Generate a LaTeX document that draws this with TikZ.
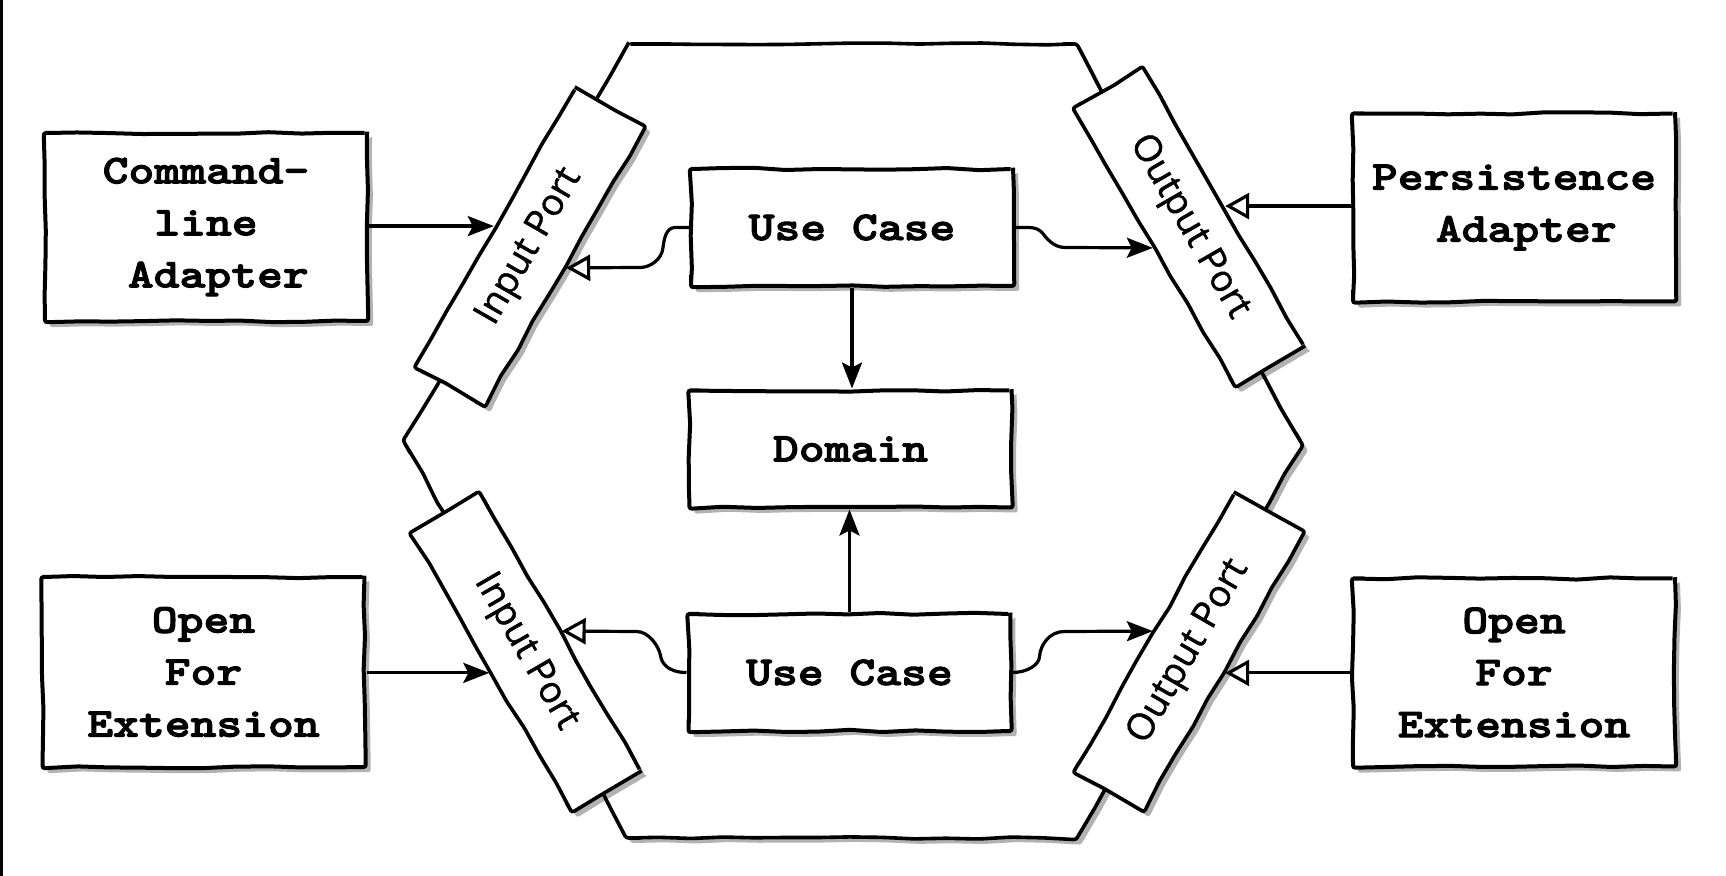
\documentclass[tikz,border=0pt]{standalone}
\usepackage{fontspec}
\newfontfamily\boxfont{lmmonolt10-bold}[Extension=.otf, FakeStretch=1.2, FakeBold=2.5]
\newfontfamily\portfont{Open Sans}[FakeBold=1.2]
\usetikzlibrary{arrows.meta,shadows,decorations.pathmorphing,calc}
\pgfmathsetseed{11}
\tikzset{
  sketch/.style={decoration={random steps,segment length=16pt,amplitude=0.6pt}, decorate, rounded corners=1.2pt},
  shade/.style={drop shadow={shadow xshift=2.5pt,shadow yshift=-2.5pt,opacity=0.3,fill=black}},
  boxnode/.style={draw, fill=white, line width=2pt, sketch, shade, inner sep=0pt, align=center,
    font=\boxfont\fontsize{20.5}{26}\selectfont, minimum width=161pt, minimum height=94pt},
  ucnode/.style={boxnode, minimum height=58.5pt},
  portnode/.style={draw, fill=white, line width=1.8pt, sketch, shade, inner sep=0pt,
    minimum width=161pt, minimum height=40pt, font=\portfont\fontsize{18.5}{22}\selectfont},
  conn/.style={line width=1.6pt},
  fillarrow/.style={conn, -{Stealth[length=13pt,width=10pt,inset=2.5pt]}},
  openarrow/.style={conn, -{Triangle[open,length=12pt,width=13pt,fill=white]}},
}
\begin{document}
\begin{tikzpicture}[x=0.5pt,y=-0.5pt]
\fill[white] (0,0) rectangle (1726,876);
\useasboundingbox (0,0) rectangle (1726,876);
\draw[line width=1.5pt] (1.5,0) -- (1.5,876);

% hexagon
\coordinate (h1) at (628,44);
\coordinate (h2) at (1075,44);
\coordinate (h3) at (1302,444);
\coordinate (h4) at (1077,838);
\coordinate (h5) at (628,838);
\coordinate (h6) at (404,442);
\draw[line width=1.8pt, fill=white, sketch, shade] (h1) -- (h2) -- (h3) -- (h4) -- (h5) -- (h6) -- cycle;

% ports
\node[portnode, rotate=60]  (ip1) at (530,247)   {Input Port};
\node[portnode, rotate=-60] (op1) at (1189,227)  {Output Port};
\node[portnode, rotate=-60] (ip2) at (525.5,652) {Input Port};
\node[portnode, rotate=60]  (op2) at (1189,652)  {Output Port};

% boxes
\node[boxnode] (cla) at (206,227) {Command-\\line\\\hspace*{0.6em}Adapter};
\node[boxnode, minimum height=95pt] (ofe1) at (203.5,672) {Open\\For\\Extension};
\node[boxnode] (pa) at (1514,207.5) {Persistence\\\hspace*{0.6em}Adapter};
\node[boxnode] (ofe2) at (1514,672.5) {Open\\For\\Extension};
\node[ucnode] (uc1) at (852,227.5) {Use Case};
\node[ucnode] (dom) at (850.5,449) {Domain};
\node[ucnode] (uc2) at (849.5,672.5) {Use Case};

% straight connectors
\draw[fillarrow] (cla.east |- ip1.north) -- (ip1.north);
\draw[openarrow] (pa.west |- op1.north) -- (op1.north);
\draw[fillarrow] (ofe1.east |- ip2.south) -- (ip2.south);
\draw[openarrow] (ofe2.west |- op2.south) -- (op2.south);
\draw[fillarrow] (uc1.south) -- (uc1.south |- dom.north);
\draw[fillarrow] (uc2.north) -- (uc2.north |- dom.south);

% curved connectors
\draw[openarrow] (uc1.west) -- ++(-14,0) .. controls +(-9,0) and +(1,-8) .. ++(-12,20)
  .. controls +(-1,12) and +(10,0) .. ++(-23,20) -- (ip1.south);
\draw[fillarrow] (uc1.east) .. controls +(15,0) and +(-6,-6) .. ++(27,5)
  .. controls +(4,5) and +(-12,0) .. ++(23,15) -- (op1.south);
\draw[openarrow] (uc2.west) .. controls +(-18,0) and +(1,8) .. ++(-26,-17)
  .. controls +(-2,-10) and +(12,0) .. ++(-24,-24) -- (ip2.north);
\draw[fillarrow] (uc2.east) .. controls +(15,0) and +(0,8) .. ++(27,-16)
  .. controls +(1,-12) and +(-15,0) .. ++(25,-25) -- (op2.north);
\end{tikzpicture}
\end{document}
